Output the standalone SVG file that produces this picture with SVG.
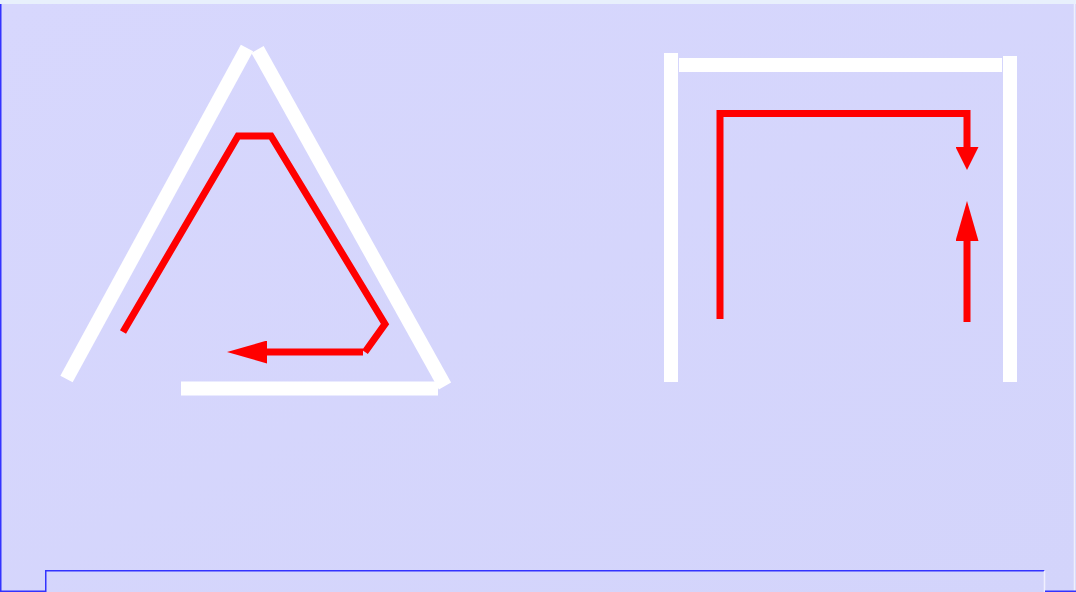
<svg xmlns="http://www.w3.org/2000/svg" width="1076" height="592" viewBox="0 0 1076 592">
  <defs>
    <linearGradient id="bg" x1="0" y1="0" x2="1" y2="1">
      <stop offset="0" stop-color="#d7d7fd"/>
      <stop offset="1" stop-color="#d3d4fb"/>
    </linearGradient>
    <marker id="ah" viewBox="0 0 40 23" refX="0" refY="11.5" markerWidth="40" markerHeight="23" markerUnits="userSpaceOnUse" orient="auto">
      <path d="M0,0 L40,11.5 L0,23 Z" fill="#ff0000"/>
    </marker>
    <marker id="ahs" viewBox="0 0 23 23" refX="0" refY="11.5" markerWidth="23" markerHeight="23" markerUnits="userSpaceOnUse" orient="auto">
      <path d="M0,0 L23,11.5 L0,23 Z" fill="#ff0000"/>
    </marker>
  </defs>
  <style>
    .wall { fill: none; stroke: #ffffff; stroke-width: 14; stroke-linecap: butt; }
    .path { fill: none; stroke: #ff0000; stroke-width: 7; stroke-linecap: butt; stroke-linejoin: miter; }
    .edge { fill: none; stroke: #3333ff; stroke-width: 1.5; }
  </style>
  <g id="background">
    <rect x="0" y="0" width="1076" height="592" fill="url(#bg)"/>
    <rect x="0" y="0" width="1076" height="4" fill="#e8f0fc"/>
    <line x1="1074.5" y1="4" x2="1074.5" y2="592" stroke="#eef0fc" stroke-width="1.5"/>
    <line x1="0.75" y1="4" x2="0.75" y2="592" class="edge"/>
    <path class="edge" d="M0,591.25 H45.75 V570.75 H1044.25"/>
    <line x1="1044.5" y1="571" x2="1044.5" y2="592" stroke="#f0f0ff" stroke-width="1.5"/>
    <line x1="1045" y1="591.25" x2="1076" y2="591.25" class="edge"/>
  </g>
  <g id="triangle">
    <line class="wall" x1="66.5" y1="379" x2="247" y2="48"/>
    <line class="wall" x1="257.5" y1="49.5" x2="445" y2="386"/>
    <line class="wall" x1="181" y1="388.5" x2="438" y2="388.5"/>
  </g>
  <g id="frame">
    <line class="wall" x1="671" y1="53" x2="671" y2="382" stroke-width="15"/>
    <line class="wall" x1="679" y1="65" x2="1002" y2="65" stroke-width="15"/>
    <line class="wall" x1="1010" y1="56" x2="1010" y2="382" stroke-width="15"/>
  </g>
  <g id="connectors">
    <polyline class="path" points="123,332 238,136 271,136 385,324 365,352"/>
    <line class="path" x1="363" y1="352" x2="267" y2="352" marker-end="url(#ah)"/>
    <polyline class="path" points="720,319 720,113.5 967,113.5 967,147" marker-end="url(#ahs)"/>
    <line class="path" x1="967" y1="322" x2="967" y2="241" marker-end="url(#ah)"/>
  </g>
</svg>
